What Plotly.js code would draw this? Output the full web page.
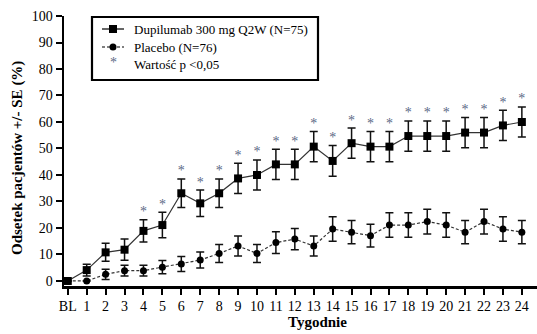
<!DOCTYPE html>
<html>
<head>
<meta charset="utf-8">
<script src="https://cdn.plot.ly/plotly-3.0.1.min.js"></script>
<style>html,body{margin:0;padding:0;background:#fff;}#chart{width:537px;height:334px;}</style>
</head>
<body>
<div id="chart"></div>
<script>
var weeks = [0,1,2,3,4,5,6,7,8,9,10,11,12,13,14,15,16,17,18,19,20,21,22,23,24];
var weekLabels = ['BL','1','2','3','4','5','6','7','8','9','10','11','12','13','14','15','16','17','18','19','20','21','22','23','24'];
var dupi = [0,4.1,10.8,11.8,18.9,21.1,33.1,29.3,33.1,38.7,40,44,44,50.7,45.3,52,50.7,50.7,54.7,54.7,54.7,56,56,58.7,60];
var dupiSE = [0,2.2,3.4,4,4.2,4.8,5.4,5,5.4,5.7,5.7,5.7,5.7,5.7,5.8,5.7,5.7,5.7,5.7,5.7,5.7,5.7,5.7,5.7,5.7];
var placebo = [0,0,2.5,3.9,3.9,5.2,6.4,7.9,10.4,13.2,10.4,14.5,15.8,13.2,19.6,18.4,17.1,21.1,21.1,22.4,21.1,18.4,22.4,19.6,18.4];
var placeboSE = [0,0,1.9,2,2,2.5,2.8,3,3.4,3.8,3.4,4.1,4,3.8,4.6,4.4,4.3,4.6,4.6,4.7,4.6,4.4,4.7,4.6,4.4];
var sigWeeks = [4,5,6,7,8,9,10,11,12,13,14,15,16,17,18,19,20,21,22,23,24];
var legendNames = ['Dupilumab 300 mg Q2W (N=75)', 'Placebo (N=76)', 'Wartość p <0,05'];
var xTitle = 'Tygodnie';
var yTitle = 'Odsetek pacjentów +/- SE (%)';

var sigY = sigWeeks.map(function(w){ return dupi[w] + dupiSE[w]; });

var serif = 'Liberation Serif';
var starColor = '#5a6785';

// plot area geometry (pixels) used to place the hand-drawn legend and titles
var W = 537, H = 334, mL = 64, mR = 0, mT = 16, mB = 48;
function px(x){ return (x - mL) / (W - mL - mR); }
function py(y){ return (H - mB - y) / (H - mT - mB); }

var traces = [
  {
    x: weeks, y: dupi, type: 'scatter', mode: 'lines+markers',
    name: legendNames[0],
    line: {color: '#333', width: 1.2},
    marker: {symbol: 'square', size: 8, color: '#000'},
    error_y: {type: 'data', array: dupiSE, visible: true, color: '#111', thickness: 1.5, width: 4}
  },
  {
    x: weeks, y: placebo, type: 'scatter', mode: 'lines+markers',
    name: legendNames[1],
    line: {color: '#333', width: 1.2, dash: '3px,2px'},
    marker: {symbol: 'circle', size: 7, color: '#000'},
    error_y: {type: 'data', array: placeboSE, visible: true, color: '#111', thickness: 1.5, width: 4}
  },
  {
    x: sigWeeks, y: sigY, type: 'scatter', mode: 'text',
    text: sigWeeks.map(function(){ return '*'; }),
    textposition: 'top center',
    textfont: {family: serif, size: 14, color: starColor},
    hoverinfo: 'skip'
  }
];

// legend drawn by hand (box, samples, labels)
var rowY = [29, 47, 64];
var sx = 113;
var shapes = [
  {type: 'rect', xref: 'paper', yref: 'paper', x0: px(92), x1: px(318), y0: py(80), y1: py(17),
   line: {color: '#000', width: 2.2}, fillcolor: '#fff', layer: 'above'},
  {type: 'line', xref: 'paper', yref: 'paper', x0: px(102), x1: px(124), y0: py(rowY[0]), y1: py(rowY[0]),
   line: {color: '#000', width: 1.2}, layer: 'above'},
  {type: 'rect', xref: 'paper', yref: 'paper', xsizemode: 'pixel', ysizemode: 'pixel',
   xanchor: px(sx), yanchor: py(rowY[0]), x0: -4, x1: 4, y0: -4, y1: 4,
   line: {width: 0}, fillcolor: '#000', layer: 'above'},
  {type: 'line', xref: 'paper', yref: 'paper', x0: px(102), x1: px(124), y0: py(rowY[1]), y1: py(rowY[1]),
   line: {color: '#000', width: 1.2, dash: '3px,2px'}, layer: 'above'},
  {type: 'circle', xref: 'paper', yref: 'paper', xsizemode: 'pixel', ysizemode: 'pixel',
   xanchor: px(sx), yanchor: py(rowY[1]), x0: -3.5, x1: 3.5, y0: -3.5, y1: 3.5,
   line: {width: 0}, fillcolor: '#000', layer: 'above'}
];
var annotations = [
  {xref: 'paper', yref: 'paper', x: px(sx), y: py(rowY[2] - 1), text: '*', showarrow: false,
   xanchor: 'center', yanchor: 'middle', font: {family: serif, size: 14, color: starColor}},
  {xref: 'paper', yref: 'paper', x: px(317), y: py(322), text: '<b>' + xTitle + '</b>', showarrow: false,
   xanchor: 'center', yanchor: 'middle', font: {family: serif, size: 15, color: '#000'}},
  {xref: 'paper', yref: 'paper', x: px(17), y: py(158), text: '<b>' + yTitle + '</b>', showarrow: false,
   textangle: -90, xanchor: 'center', yanchor: 'middle', font: {family: serif, size: 15, color: '#000'}}
];
for (var i = 0; i < 3; i++) {
  annotations.push({xref: 'paper', yref: 'paper', x: px(132), y: py(rowY[i]), text: legendNames[i],
    showarrow: false, xanchor: 'left', yanchor: 'middle', font: {family: serif, size: 13, color: '#000'}});
}

var layout = {
  width: W, height: H,
  margin: {l: mL, r: mR, t: mT, b: mB},
  paper_bgcolor: '#fff', plot_bgcolor: '#fff',
  font: {family: serif, color: '#000', size: 13},
  showlegend: false,
  shapes: shapes,
  annotations: annotations,
  xaxis: {
    range: [-0.2, 24.8],
    tickmode: 'array', tickvals: weeks, ticktext: weekLabels,
    showgrid: false, zeroline: false,
    showline: true, linecolor: '#000', linewidth: 2.5,
    ticks: 'outside', ticklen: 6, tickwidth: 2, tickcolor: '#000',
    tickfont: {family: serif, size: 14}
  },
  yaxis: {
    range: [-1.9, 100],
    tickmode: 'array', tickvals: [0,10,20,30,40,50,60,70,80,90,100],
    showgrid: false, zeroline: false,
    showline: true, linecolor: '#000', linewidth: 2.5,
    ticks: 'outside', ticklen: 6, tickwidth: 2, tickcolor: '#000',
    tickfont: {family: serif, size: 14}
  }
};

Plotly.newPlot('chart', traces, layout, {displayModeBar: false, staticPlot: true});
</script>
</body>
</html>
